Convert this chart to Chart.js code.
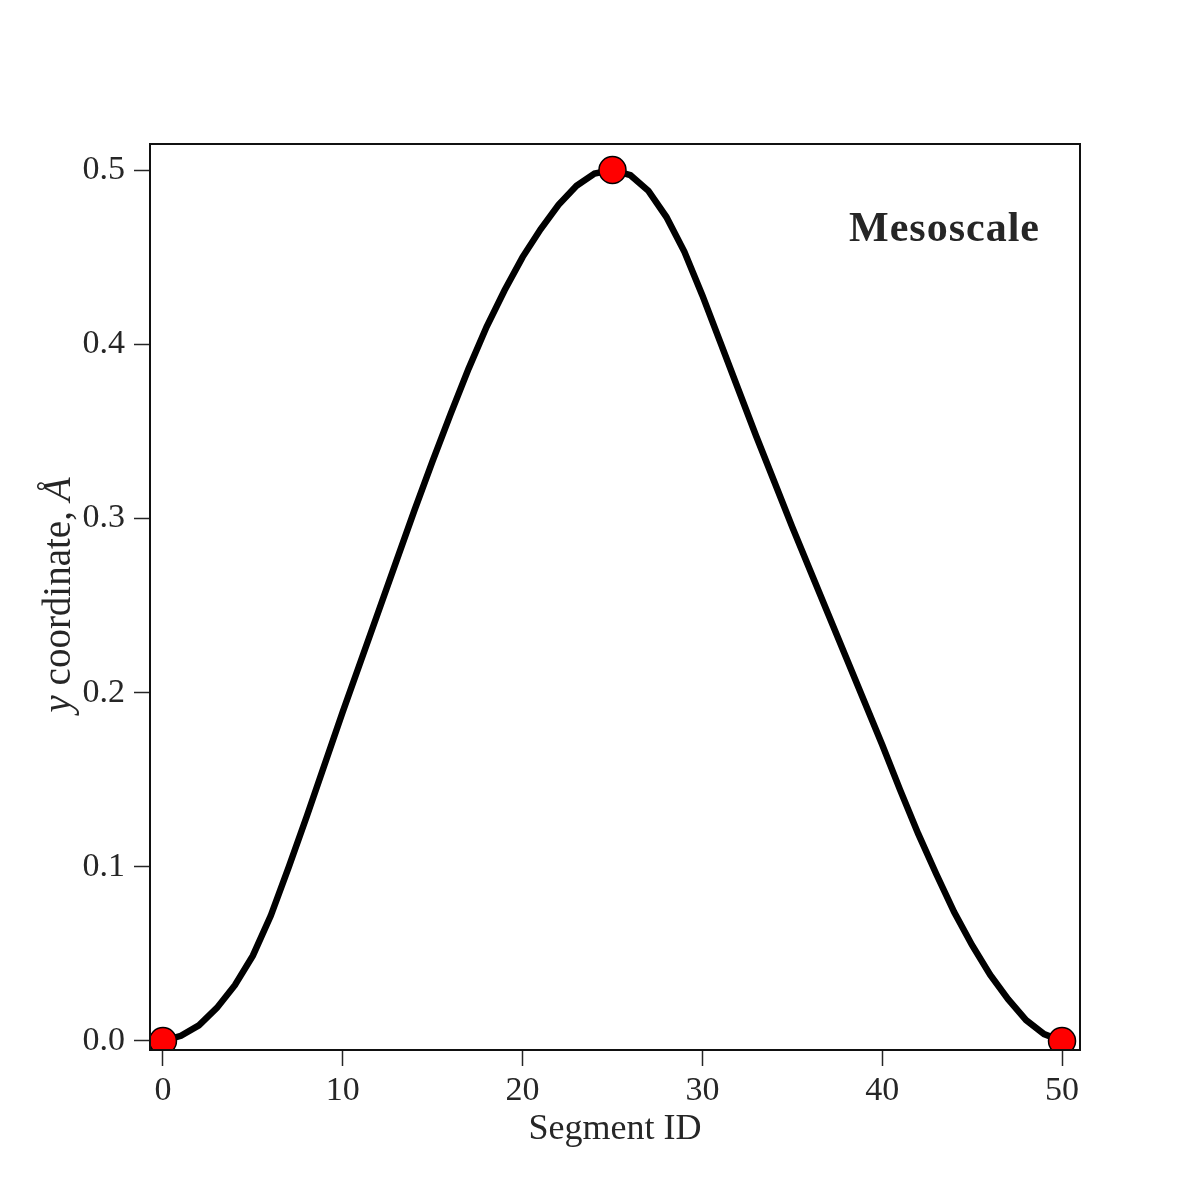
<!DOCTYPE html>
<html>
<head>
<meta charset="utf-8">
<script src="https://cdn.jsdelivr.net/npm/chart.js@4.4.1/dist/chart.umd.min.js"></script>
<style>
  html, body { margin: 0; padding: 0; background: #ffffff; }
  #wrap { width: 1200px; height: 1200px; }
</style>
</head>
<body>
<div id="wrap"><canvas id="c" width="1200" height="1200"></canvas></div>
<script>
// ---- data ----
const segmentIds = [
  0, 1, 2, 3, 4, 5, 6, 7, 8, 9,
  10, 11, 12, 13, 14, 15, 16, 17, 18, 19,
  20, 21, 22, 23, 24, 25, 26, 27, 28, 29,
  30, 31, 32, 33, 34, 35, 36, 37, 38, 39,
  40, 41, 42, 43, 44, 45, 46, 47, 48, 49,
  50
];
const yCoord = [
  0.000, 0.003, 0.009, 0.019, 0.032, 0.049, 0.072, 0.100, 0.129, 0.159,
  0.189, 0.218, 0.247, 0.276, 0.305, 0.333, 0.360, 0.386, 0.410, 0.431,
  0.450, 0.466, 0.480, 0.491, 0.498, 0.500, 0.497, 0.488, 0.473, 0.453,
  0.428, 0.401, 0.374, 0.347, 0.321, 0.295, 0.270, 0.245, 0.220, 0.195,
  0.170, 0.144, 0.119, 0.096, 0.074, 0.055, 0.038, 0.024, 0.012, 0.004,
  0.000
];
const markerIds = [0, 25, 50];
const xTickValues = [0, 10, 20, 30, 40, 50];
const yTickValues = [0.0, 0.1, 0.2, 0.3, 0.4, 0.5];
const xTitle = 'Segment ID';
const yTitleParts = [
  { text: 'y', italic: true },
  { text: ' coordinate, ', italic: false },
  { text: 'Å', italic: true }
];
const panelLabel = 'Mesoscale';

// ---- styling ----
const FONT = '"Liberation Serif", "Times New Roman", serif';
const TEXT = '#262626';

const points = segmentIds.map((id, k) => ({ x: id, y: yCoord[k] }));

const framePlugin = {
  id: 'frame',
  afterDraw(chart) {
    const { ctx, chartArea: a } = chart;
    ctx.save();
    ctx.strokeStyle = '#111111';
    ctx.lineWidth = 2;
    ctx.strokeRect(a.left, a.top, a.right - a.left, a.bottom - a.top);

    // panel label
    ctx.fillStyle = TEXT;
    ctx.font = 'bold 42px ' + FONT;
    if ('letterSpacing' in ctx) ctx.letterSpacing = '1px';
    ctx.textAlign = 'right';
    ctx.textBaseline = 'alphabetic';
    ctx.fillText(panelLabel, 1040, 241);
    if ('letterSpacing' in ctx) ctx.letterSpacing = '0px';

    // y-axis title (mixed italic / upright)
    const size = 39;
    const fontFor = p => (p.italic ? 'italic ' : '') + size + 'px ' + FONT;
    let total = 0;
    const widths = yTitleParts.map(p => { ctx.font = fontFor(p); const w = ctx.measureText(p.text).width; total += w; return w; });
    const cy = (a.top + a.bottom) / 2 - 2;
    ctx.translate(70, cy);
    ctx.rotate(-Math.PI / 2);
    ctx.textAlign = 'left';
    let x = -total / 2;
    yTitleParts.forEach((p, i) => {
      ctx.font = fontFor(p);
      ctx.fillText(p.text, x, 0);
      x += widths[i];
    });
    ctx.restore();
  }
};

new Chart(document.getElementById('c'), {
  type: 'line',
  data: {
    datasets: [{
      label: 'y coordinate',
      data: points,
      borderColor: '#000000',
      borderWidth: 6.5,
      tension: 0,
      fill: false,
      clip: 1,
      pointRadius: ctx => markerIds.includes(segmentIds[ctx.dataIndex]) ? 13.5 : 0,
      pointHoverRadius: ctx => markerIds.includes(segmentIds[ctx.dataIndex]) ? 13.5 : 0,
      pointBackgroundColor: '#ff0000',
      pointBorderColor: '#000000',
      pointBorderWidth: 1.5
    }]
  },
  options: {
    responsive: false,
    animation: false,
    devicePixelRatio: 1,
    layout: { padding: { left: 0, right: 120, top: 144, bottom: 0 } },
    plugins: { legend: { display: false }, tooltip: { enabled: false }, title: { display: false } },
    scales: {
      x: {
        type: 'linear',
        min: -0.72,
        max: 51.0,
        afterFit: s => { s.height = 150; },
        afterBuildTicks: s => { s.ticks = xTickValues.map(v => ({ value: v })); },
        border: { display: false },
        grid: { drawOnChartArea: false, drawTicks: true, tickLength: 16, tickColor: TEXT, tickWidth: 1.5 },
        ticks: { color: TEXT, font: { family: FONT, size: 34 }, padding: 5, maxRotation: 0, callback: v => String(v) },
        title: { display: true, text: xTitle, color: TEXT, font: { family: FONT, size: 36 }, padding: { top: 0, bottom: 49 } }
      },
      y: {
        type: 'linear',
        min: -0.00517,
        max: 0.51493,
        afterFit: s => { s.width = 150; },
        afterBuildTicks: s => { s.ticks = yTickValues.map(v => ({ value: v })); },
        border: { display: false },
        grid: { drawOnChartArea: false, drawTicks: true, tickLength: 16, tickColor: TEXT, tickWidth: 1.5 },
        ticks: { color: TEXT, font: { family: FONT, size: 34 }, padding: 9, callback: v => Number(v).toFixed(1) },
        title: { display: false }
      }
    }
  },
  plugins: [framePlugin]
});
</script>
</body>
</html>
